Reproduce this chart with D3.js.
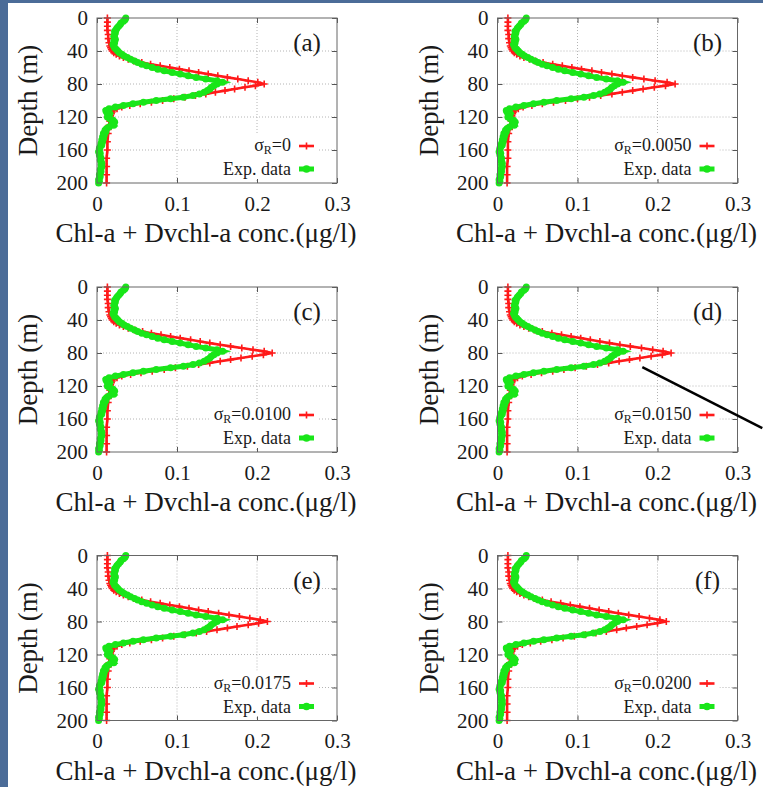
<!DOCTYPE html>
<html>
<head>
<meta charset="utf-8">
<script src="https://cdn.jsdelivr.net/npm/d3@7"></script>
<style>
	body { margin: 0; background: #4b6c98; }
	text { font-family: "Liberation Serif", "Times New Roman", serif; fill: #1a1a1a; }
</style>
</head>
<body>
<script>
// depths (m) of the model output
let modelDepth = [0, 5, 10, 15, 20, 25, 30, 34,
	36, 38, 40, 42, 44, 46, 48, 50, 52, 54,
	56, 58, 60, 62, 64, 66, 68, 70, 72, 74,
	76, 78, 80, 82, 84, 86, 88, 90, 92, 94,
	96, 98, 100, 102, 104, 106, 108, 110, 112, 114,
	116, 118, 120,
	125, 130, 135, 140,
	150, 160, 170, 180, 190, 200];

// model concentration for each sigma_R (panels a..f)
let modelA = [0.013, 0.013, 0.013, 0.013, 0.014, 0.014, 0.015, 0.016,
	0.017, 0.018, 0.019, 0.021, 0.024, 0.028, 0.033, 0.039, 0.046, 0.056,
	0.067, 0.079, 0.091, 0.103, 0.115, 0.127, 0.139, 0.151, 0.163, 0.176,
	0.189, 0.201, 0.209, 0.198, 0.185, 0.172, 0.160, 0.148, 0.136, 0.123,
	0.110, 0.096, 0.082, 0.068, 0.054, 0.041, 0.031, 0.025, 0.021, 0.019,
	0.018, 0.017, 0.017,
	0.016, 0.015, 0.014, 0.014,
	0.013, 0.013, 0.012, 0.012, 0.012, 0.012];
let modelB = [0.013, 0.013, 0.013, 0.013, 0.014, 0.014, 0.015, 0.016,
	0.017, 0.018, 0.019, 0.021, 0.024, 0.028, 0.033, 0.040, 0.047, 0.057,
	0.069, 0.081, 0.093, 0.105, 0.118, 0.130, 0.143, 0.156, 0.169, 0.183,
	0.197, 0.212, 0.222, 0.210, 0.196, 0.182, 0.169, 0.156, 0.143, 0.129,
	0.115, 0.100, 0.085, 0.070, 0.056, 0.043, 0.032, 0.026, 0.022, 0.020,
	0.019, 0.018, 0.018,
	0.017, 0.016, 0.015, 0.014,
	0.013, 0.013, 0.013, 0.012, 0.012, 0.012];
let modelC = [0.013, 0.013, 0.013, 0.013, 0.014, 0.014, 0.015, 0.016,
	0.017, 0.018, 0.019, 0.021, 0.024, 0.028, 0.033, 0.039, 0.047, 0.057,
	0.068, 0.080, 0.092, 0.104, 0.117, 0.129, 0.141, 0.154, 0.167, 0.181,
	0.195, 0.209, 0.219, 0.208, 0.194, 0.180, 0.167, 0.154, 0.141, 0.127,
	0.113, 0.098, 0.084, 0.069, 0.055, 0.042, 0.031, 0.025, 0.021, 0.019,
	0.018, 0.017, 0.017,
	0.016, 0.015, 0.014, 0.014,
	0.013, 0.013, 0.012, 0.012, 0.012, 0.012];
let modelD = [0.013, 0.013, 0.013, 0.013, 0.014, 0.014, 0.015, 0.016,
	0.017, 0.018, 0.019, 0.021, 0.024, 0.028, 0.033, 0.039, 0.046, 0.056,
	0.068, 0.080, 0.092, 0.104, 0.116, 0.128, 0.140, 0.153, 0.166, 0.180,
	0.194, 0.207, 0.217, 0.206, 0.192, 0.178, 0.165, 0.152, 0.139, 0.125,
	0.111, 0.097, 0.083, 0.069, 0.055, 0.042, 0.031, 0.025, 0.021, 0.019,
	0.018, 0.017, 0.017,
	0.016, 0.015, 0.014, 0.014,
	0.013, 0.013, 0.012, 0.012, 0.012, 0.012];
let modelE = [0.013, 0.013, 0.013, 0.013, 0.014, 0.014, 0.015, 0.016,
	0.017, 0.018, 0.019, 0.021, 0.024, 0.028, 0.033, 0.039, 0.046, 0.056,
	0.067, 0.079, 0.091, 0.103, 0.115, 0.127, 0.139, 0.152, 0.165, 0.178,
	0.191, 0.204, 0.213, 0.202, 0.189, 0.175, 0.163, 0.150, 0.137, 0.124,
	0.110, 0.096, 0.082, 0.068, 0.054, 0.041, 0.031, 0.025, 0.021, 0.019,
	0.018, 0.017, 0.017,
	0.016, 0.015, 0.014, 0.014,
	0.013, 0.013, 0.012, 0.012, 0.012, 0.012];
let modelF = [0.013, 0.013, 0.013, 0.013, 0.014, 0.014, 0.015, 0.016,
	0.017, 0.018, 0.019, 0.021, 0.024, 0.028, 0.033, 0.039, 0.046, 0.056,
	0.067, 0.079, 0.091, 0.103, 0.115, 0.127, 0.139, 0.151, 0.164, 0.177,
	0.190, 0.203, 0.211, 0.200, 0.187, 0.174, 0.161, 0.149, 0.136, 0.123,
	0.110, 0.096, 0.082, 0.068, 0.054, 0.041, 0.031, 0.025, 0.021, 0.019,
	0.018, 0.017, 0.017,
	0.016, 0.015, 0.014, 0.014,
	0.013, 0.013, 0.012, 0.012, 0.012, 0.012];

// measured profile (same in every panel)
let expDepth = [0, 2, 4, 6, 8, 10, 12, 14, 16, 18,
	20, 22, 24, 26, 28, 30, 32, 34, 36, 38,
	40, 42, 44, 46, 48, 50, 52, 54, 56, 58,
	60, 62, 64, 66, 68, 70, 72, 74, 76, 78,
	80, 82, 84, 86, 88, 90, 92, 94, 96, 98,
	100, 102, 104, 106, 108, 110, 112, 114, 116, 118,
	120, 122, 124, 126, 128, 130, 132, 134, 136, 138,
	140, 142, 144, 146, 148, 150, 152, 154, 156, 158,
	160, 162, 164, 166, 168, 170, 172, 174, 176, 178,
	180, 182, 184, 186, 188, 190, 192, 194, 196, 198,
	200];
let expConc = [0.036, 0.035, 0.033, 0.030, 0.029, 0.027, 0.025, 0.024, 0.022, 0.023,
	0.022, 0.021, 0.022, 0.023, 0.021, 0.022, 0.020, 0.021, 0.022, 0.024,
	0.026, 0.028, 0.031, 0.034, 0.038, 0.042, 0.047, 0.051, 0.056, 0.062,
	0.069, 0.076, 0.084, 0.094, 0.104, 0.114, 0.124, 0.136, 0.150, 0.157,
	0.150, 0.146, 0.143, 0.141, 0.138, 0.134, 0.128, 0.120, 0.108, 0.092,
	0.074, 0.058, 0.045, 0.033, 0.023, 0.015, 0.011, 0.012, 0.016, 0.014,
	0.013, 0.016, 0.020, 0.022, 0.019, 0.021, 0.015, 0.012, 0.010, 0.011,
	0.008, 0.009, 0.007, 0.008, 0.006, 0.007, 0.005, 0.006, 0.004, 0.003,
	0.003, 0.002, 0.004, 0.003, 0.004, 0.005, 0.004, 0.005, 0.006, 0.005,
	0.006, 0.005, 0.004, 0.005, 0.004, 0.003, 0.004, 0.003, 0.002, 0.003,
	0.002];

let modelSeries = [modelA, modelB, modelC, modelD, modelE, modelF];
let panelLabels = ["(a)", "(b)", "(c)", "(d)", "(e)", "(f)"];
let sigmaLabels = ["0", "0.0050", "0.0100", "0.0150", "0.0175", "0.0200"];

// tick labels
let xTicks = [0, 0.1, 0.2, 0.3],
	xTickLabels = ["0", "0.1", "0.2", "0.3"],
	yTicks = [0, 40, 80, 120, 160, 200],
	yTickLabels = ["0", "40", "80", "120", "160", "200"];

// pointer line drawn out of panel (d)
let pointer = [{conc: 0.181, depth: 97}, {conc: 0.331, depth: 171}];

let red = "#ff1a1a",
	green = "#19e619";

// panel geometry
let width = 240,
	height = 165,
	colLeft = [97, 497.5],
	rowTop = [18, 287, 555.5];

// Set the scales ranges
let xScale = d3.scaleLinear().domain([0, 0.3]).range([0, width]),
	yScale = d3.scaleLinear().domain([0, 200]).range([0, height]);

let line = d3.line()
	.x(function(d) { return xScale(d.conc); })
	.y(function(d) { return yScale(d.depth); });

let svg = d3.select("body")
	.append("svg")
	.attr("width", 763)
	.attr("height", 787);

// slide background with the white card
svg.append("rect").attr("width", 763).attr("height", 787).attr("fill", "#4b6c98");
svg.append("rect").attr("x", 8).attr("y", 3).attr("width", 755).attr("height", 784).attr("fill", "#ffffff");

let expData = expDepth.map(function(d, i) { return {depth: d, conc: expConc[i]}; });

modelSeries.forEach(function(series, i) {
	let left = colLeft[i % 2],
		top = rowTop[Math.floor(i / 2)];
	let g = svg.append("g").attr("transform", "translate(" + left + "," + top + ")");

	let modelData = modelDepth.map(function(d, j) { return {depth: d, conc: series[j]}; });

	// dotted grid
	g.selectAll(".vgrid").data(xTicks.slice(1, -1)).enter().append("line")
		.attr("x1", function(d) { return xScale(d); }).attr("x2", function(d) { return xScale(d); })
		.attr("y1", 0).attr("y2", height)
		.attr("stroke", "#b4b4b4").attr("stroke-dasharray", "1,2");
	g.selectAll(".hgrid").data(yTicks.slice(1, -1)).enter().append("line")
		.attr("y1", function(d) { return yScale(d); }).attr("y2", function(d) { return yScale(d); })
		.attr("x1", 0).attr("x2", width)
		.attr("stroke", "#b4b4b4").attr("stroke-dasharray", "1,2");

	// axes, ticks inside and mirrored
	let axes = [
		{axis: d3.axisBottom(xScale).tickValues(xTicks).tickFormat(function(d, k) { return xTickLabels[k]; }).tickPadding(13), y: height, x: 0},
		{axis: d3.axisTop(xScale).tickValues(xTicks).tickFormat(""), y: 0, x: 0},
		{axis: d3.axisLeft(yScale).tickValues(yTicks).tickFormat(function(d, k) { return yTickLabels[k]; }).tickPadding(9), y: 0, x: 0},
		{axis: d3.axisRight(yScale).tickValues(yTicks).tickFormat(""), y: 0, x: width}
	];
	axes.forEach(function(a) {
		let el = g.append("g")
			.attr("transform", "translate(" + a.x + "," + a.y + ")")
			.call(a.axis.tickSize(-5).tickSizeOuter(0));
		el.select(".domain").remove();
		el.selectAll("line").attr("stroke", "#555");
		el.selectAll("text").attr("font-size", 21).attr("fill", "#1a1a1a")
			.attr("font-family", "Liberation Serif, serif");
	});

	// model: line with + points
	g.append("path").datum(modelData)
		.attr("d", line).attr("fill", "none")
		.attr("stroke", red).attr("stroke-width", 2.6);
	g.selectAll(".plus").data(modelData).enter().append("path")
		.attr("transform", function(d) { return "translate(" + xScale(d.conc) + "," + yScale(d.depth) + ")"; })
		.attr("d", "M-3.5,0H3.5M0,-3.5V3.5")
		.attr("stroke", red).attr("stroke-width", 1.6);

	// experiment: thick line with filled points
	g.append("path").datum(expData)
		.attr("d", line).attr("fill", "none")
		.attr("stroke", green).attr("stroke-width", 5);
	g.selectAll(".dot").data(expData).enter().append("circle")
		.attr("cx", function(d) { return xScale(d.conc); })
		.attr("cy", function(d) { return yScale(d.depth); })
		.attr("r", 3.5).attr("fill", green);

	// frame
	g.append("rect").attr("width", width).attr("height", height)
		.attr("fill", "none").attr("stroke", "#666").attr("stroke-width", 1);

	// legend
	let key = g.append("g");
	key.append("rect").attr("x", width - 128).attr("y", height - 50)
		.attr("width", 110).attr("height", 46).attr("fill", "#fff");
	let t1 = key.append("text").attr("x", width - 46).attr("y", height - 32)
		.attr("text-anchor", "end").attr("font-size", 18);
	t1.append("tspan").text("σ");
	t1.append("tspan").attr("font-size", 12).attr("dy", 3).text("R");
	t1.append("tspan").attr("dy", -3).text("=" + sigmaLabels[i]);
	key.append("text").attr("x", width - 46).attr("y", height - 8)
		.attr("text-anchor", "end").attr("font-size", 18).text("Exp. data");
	key.append("line").attr("x1", width - 38).attr("x2", width - 23)
		.attr("y1", height - 37).attr("y2", height - 37)
		.attr("stroke", red).attr("stroke-width", 2.6);
	key.append("path").attr("d", "M-3.5,0H3.5M0,-3.5V3.5")
		.attr("transform", "translate(" + (width - 30.5) + "," + (height - 37) + ")")
		.attr("stroke", red).attr("stroke-width", 1.6);
	key.append("line").attr("x1", width - 38).attr("x2", width - 23)
		.attr("y1", height - 14).attr("y2", height - 14)
		.attr("stroke", green).attr("stroke-width", 5);
	key.append("circle").attr("cx", width - 30.5).attr("cy", height - 14)
		.attr("r", 3.8).attr("fill", green);

	// panel letter
	g.append("text").attr("x", width - 30).attr("y", 33)
		.attr("text-anchor", "middle").attr("font-size", 25).text(panelLabels[i]);

	// axis titles
	g.append("text")
		.attr("transform", "translate(-60," + (height / 2) + ") rotate(-90)")
		.attr("text-anchor", "middle").attr("font-size", 27).text("Depth (m)");
	g.append("text").attr("x", width / 2 - 11).attr("y", height + 59)
		.attr("text-anchor", "middle").attr("font-size", 27).text("Chl-a + Dvchl-a conc.(μg/l)");

	if (i === 3) {
		g.append("path").datum(pointer)
			.attr("d", line).attr("fill", "none")
			.attr("stroke", "#000").attr("stroke-width", 2.5);
	}
});
</script>
</body>
</html>
